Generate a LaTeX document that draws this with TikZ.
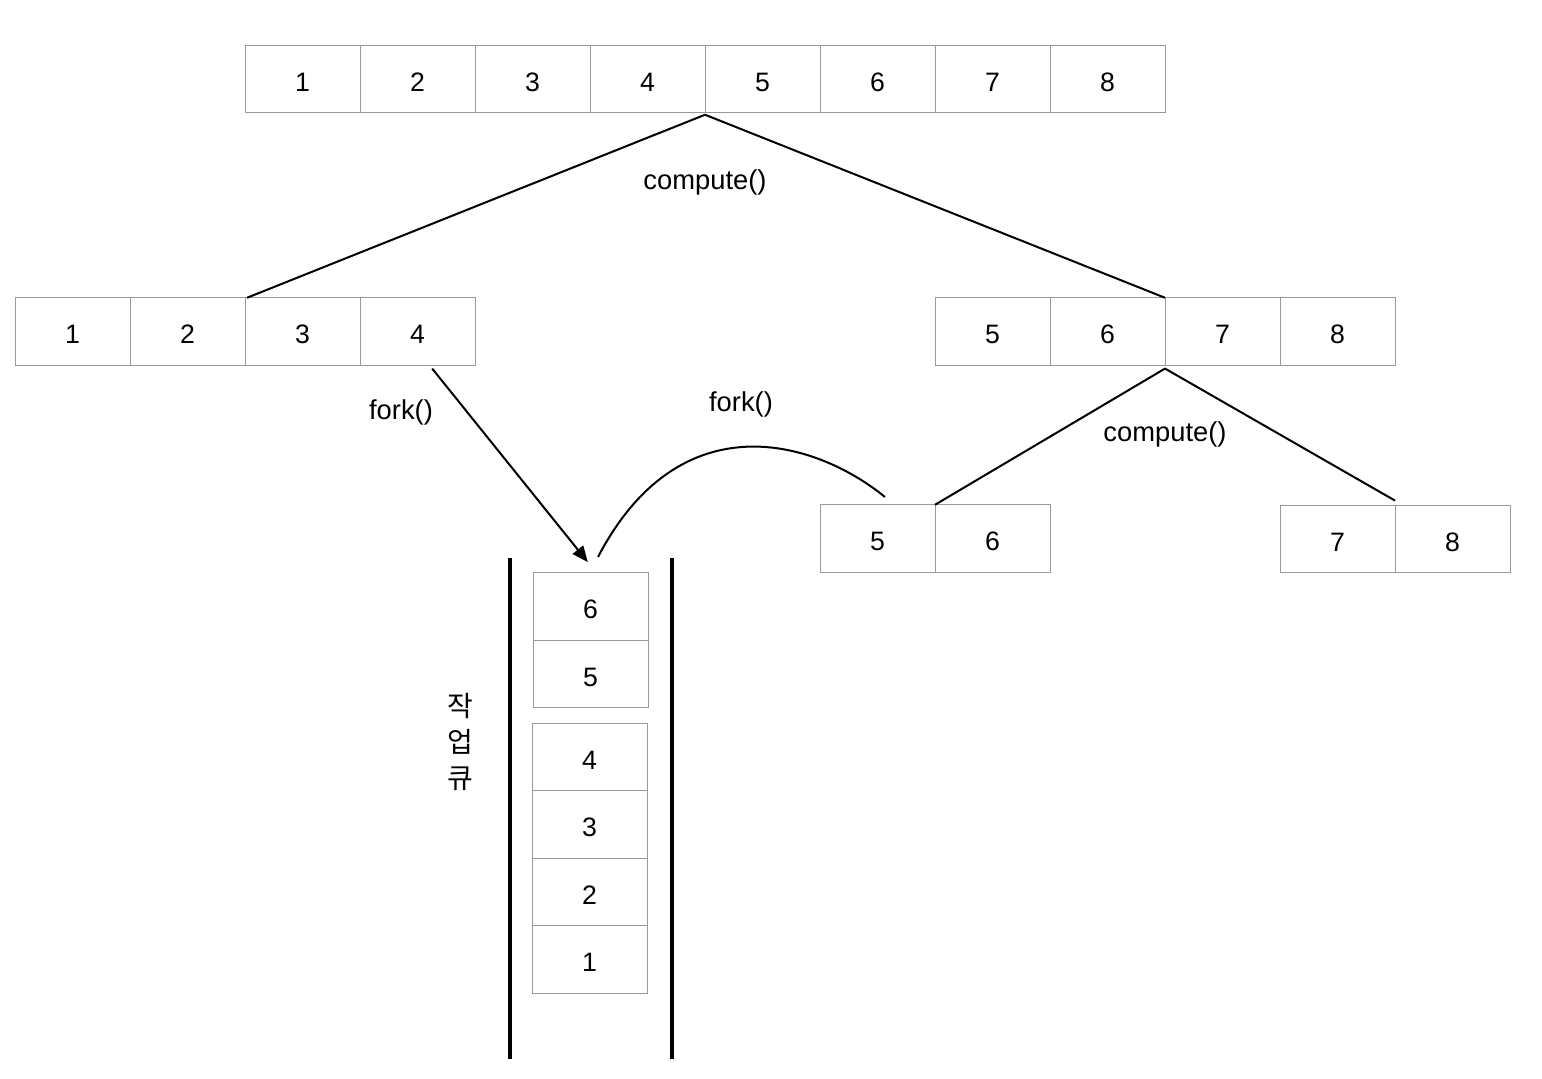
\documentclass[tikz,border=0pt]{standalone}
\usepackage{fontspec}
\setmainfont{Liberation Sans}
\newfontfamily\krfont{Noto Sans CJK KR}
\usetikzlibrary{arrows.meta}
\begin{document}
\begin{tikzpicture}[x=0.75pt,y=-0.75pt,
  cell/.style={draw=black!40,line width=0.75pt,minimum width=86.25pt,minimum height=50.6pt,inner sep=0pt,outer sep=0pt,text height=18pt,text depth=0pt,font=\fontsize{20}{24}\selectfont},
  qcell/.style={cell,minimum height=50.6pt},
  lbl/.style={font=\fontsize{20.5}{24}\selectfont,inner sep=0pt},
  conn/.style={line width=1.5pt},
  wall/.style={line width=2.3pt}]
\useasboundingbox (0,0) rectangle (1542,1078);
% top row
\foreach \i in {1,...,8}{
  \node[cell] (t\i) at ({245+115*(\i-0.5)},79) {\i};
}
% second level
\foreach \i in {1,...,4}{
  \node[cell] (l\i) at ({15+115*(\i-0.5)},331.5) {\i};
}
\foreach \i/\v in {1/5,2/6,3/7,4/8}{
  \node[cell] (r\i) at ({935+115*(\i-0.5)},331.5) {\v};
}
% third level
\node[cell] (a1) at (877.5,538.5) {5};
\node[cell] (a2) at (992.5,538.5) {6};
\node[cell] (b1) at (1337.5,539) {7};
\node[cell] (b2) at (1452.5,539) {8};
% queue
\node[qcell] (q6) at (590.5,606.5) {6};
\node[qcell] (q5) at (590.5,674) {5};
\node[qcell] (q4) at (589.5,757) {4};
\node[qcell] (q3) at (589.5,824.5) {3};
\node[qcell] (q2) at (589.5,892) {2};
\node[qcell] (q1) at (589.5,959.5) {1};
\coordinate (wl1) at (510,558);
\coordinate (wl2) at (510,1059);
\coordinate (wr1) at (672,558);
\coordinate (wr2) at (672,1059);
\draw[wall] (wl1) -- (wl2);
\draw[wall] (wr1) -- (wr2);
\node[font=\krfont\fontsize{21}{27}\selectfont,align=center,inner sep=0pt] (kq) at (460,742) {작\\업\\큐};
% compute lines
\coordinate (apex1) at ([yshift=-1.5pt]t4.south east);
\draw[conn] (apex1) -- ([xshift=1.5pt]l3.north west);
\draw[conn] (apex1) -- (r3.north west);
\node[lbl] (c1) at (705,182) {compute()};
\coordinate (apex2) at ([yshift=-2.5pt]r2.south east);
\draw[conn] (apex2) -- (a2.north west);
\draw[conn] (apex2) -- ([yshift=3.5pt]b2.north west);
\node[lbl] (c2) at (1165,434) {compute()};
% fork arrow
\coordinate (fs) at ([xshift=11pt,yshift=-2.5pt]l4.south);
\coordinate (fe) at ([xshift=-2pt,yshift=8pt]q6.north);
\draw[conn,-{Triangle[length=12pt,width=10pt]}] (fs) -- (fe);
\node[lbl] (f1) at (401,412) {fork()};
% arc
\coordinate (as) at (885,497);
\coordinate (ae) at (598,557);
\draw[conn] (as) .. controls (815,440) and (680,400) .. (ae);
\node[lbl] (f2) at (741,404) {fork()};
\end{tikzpicture}
\end{document}
